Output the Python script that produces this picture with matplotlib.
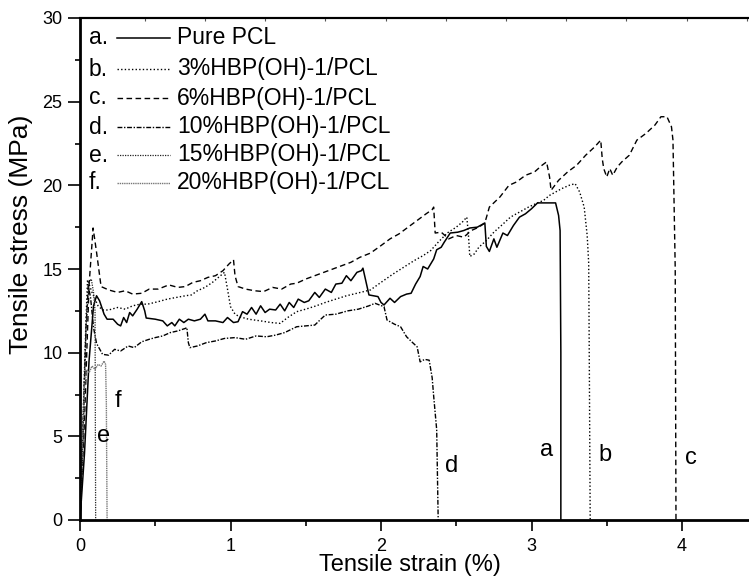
import matplotlib
matplotlib.use("Agg")
import matplotlib.pyplot as plt
from matplotlib.ticker import MultipleLocator, FixedLocator, NullFormatter

plt.rcParams['font.family'] = ['Liberation Sans', 'DejaVu Sans']

# ---- data ----
a_x = [0, 0.03, 0.06, 0.09, 0.11, 0.13, 0.16, 0.18, 0.22, 0.25, 0.27, 0.29, 0.31, 0.33, 0.35, 0.38, 0.41, 0.43,
       0.44, 0.5, 0.55, 0.58, 0.61, 0.63, 0.66, 0.69, 0.72, 0.76, 0.8, 0.83, 0.85, 0.9, 0.95, 0.98, 1.02, 1.05,
       1.08, 1.11, 1.14, 1.17, 1.2, 1.23, 1.26, 1.3, 1.33, 1.36, 1.39, 1.42, 1.45, 1.49, 1.52, 1.56, 1.59, 1.63,
       1.67, 1.7, 1.74, 1.77, 1.8, 1.84, 1.87, 1.88, 1.92, 1.98, 2.0, 2.02, 2.06, 2.09, 2.13, 2.17, 2.2, 2.23,
       2.26, 2.28, 2.31, 2.35, 2.37, 2.4, 2.42, 2.46, 2.51, 2.55, 2.59, 2.64, 2.69, 2.7, 2.72, 2.75, 2.77, 2.81,
       2.84, 2.88, 2.92, 2.96, 3.0, 3.04, 3.08, 3.16, 3.18, 3.19, 3.195, 3.195]
a_y = [0, 4, 9.5, 12.8, 13.4, 13.1, 12.3, 12.0, 12.0, 11.7, 11.6, 12.1, 11.8, 12.4, 12.2, 12.6, 13.05, 12.5,
       12.07, 12.0, 11.9, 11.6, 11.8, 11.6, 12.0, 11.8, 12.0, 11.9, 12.0, 12.3, 11.9, 11.9, 11.8, 12.1, 11.8, 11.85,
       12.45, 12.3, 12.7, 12.3, 12.8, 12.4, 12.6, 12.55, 12.9, 12.5, 13.0, 12.7, 13.2, 13.0, 13.1, 13.6, 13.3, 13.8,
       13.6, 14.1, 14.15, 14.6, 14.3, 14.8, 14.9, 15.05, 13.45, 13.35, 13.0, 12.85, 13.25, 13.0, 13.35, 13.5, 13.55, 14.1,
       14.55, 15.15, 15.0, 15.6, 16.15, 16.3, 16.6, 17.15, 17.2, 17.3, 17.45, 17.5, 17.75, 16.35, 16.05, 16.8, 16.3, 17.15,
       17.0, 17.6, 18.1, 18.3, 18.6, 18.95, 18.95, 18.95, 18.2, 17.3, 10, 0]

b_x = [0, 0.02, 0.04, 0.05, 0.08, 0.12, 0.15, 0.19, 0.25, 0.3, 0.35, 0.4, 0.45, 0.52, 0.58, 0.64, 0.7, 0.74,
       0.78, 0.83, 0.88, 0.92, 0.96, 0.98, 1.0, 1.03, 1.06, 1.12, 1.2, 1.27, 1.33, 1.38, 1.44, 1.5, 1.57, 1.63,
       1.7, 1.77, 1.84, 1.93, 2.0, 2.08, 2.15, 2.22, 2.28, 2.33, 2.38, 2.44, 2.5, 2.54, 2.57, 2.58, 2.59, 2.62,
       2.65, 2.7, 2.75, 2.8, 2.86, 2.92, 2.98, 3.04, 3.08, 3.12, 3.16, 3.2, 3.25, 3.29, 3.32, 3.35, 3.37, 3.38,
       3.385, 3.39]
b_y = [0, 6, 12, 14.35, 13.6, 12.8, 12.55, 12.55, 12.7, 12.6, 12.8, 12.9, 12.9, 13.05, 13.2, 13.3, 13.4, 13.45,
       13.7, 13.9, 14.2, 14.5, 14.8, 13.8, 12.75, 12.3, 12.15, 12.0, 11.9, 11.8, 11.75, 12.1, 12.45, 12.6, 12.8, 13.0,
       13.2, 13.4, 13.55, 13.75, 14.2, 14.7, 15.1, 15.5, 15.8, 16.1, 16.6, 17.15, 17.5, 17.8, 18.1, 17.15, 15.75, 15.9,
       16.3, 16.7, 17.2, 17.6, 18.1, 18.4, 18.7, 18.95, 19.1, 19.4, 19.6, 19.8, 20.0, 20.1, 19.6, 18.7, 17.0, 15.35,
       8, 0]

c_x = [0, 0.03, 0.06, 0.087, 0.11, 0.14, 0.19, 0.25, 0.3, 0.35, 0.41, 0.46, 0.52, 0.59, 0.65, 0.7, 0.75, 0.8,
       0.85, 0.9, 0.95, 0.99, 1.02, 1.03, 1.05, 1.1, 1.16, 1.22, 1.28, 1.34, 1.4, 1.44, 1.5, 1.56, 1.62, 1.68,
       1.74, 1.8, 1.86, 1.93, 2.0, 2.06, 2.12, 2.18, 2.24, 2.3, 2.34, 2.35, 2.36, 2.4, 2.45, 2.5, 2.55, 2.6,
       2.65, 2.69, 2.72, 2.79, 2.85, 2.9, 2.96, 3.02, 3.07, 3.1, 3.12, 3.13, 3.18, 3.24, 3.3, 3.36, 3.42, 3.46,
       3.47, 3.48, 3.5, 3.52, 3.54, 3.57, 3.6, 3.65, 3.7, 3.76, 3.82, 3.86, 3.9, 3.93, 3.94, 3.955, 3.96]
c_y = [0, 6, 14, 17.45, 16, 13.95, 13.75, 13.6, 13.7, 13.5, 13.55, 13.8, 13.8, 14.05, 13.9, 13.95, 14.2, 14.3,
       14.5, 14.6, 14.9, 15.3, 15.55, 14.6, 13.95, 13.8, 13.7, 13.65, 13.9, 13.8, 14.1, 14.15, 14.4, 14.6, 14.8, 15.0,
       15.2, 15.4, 15.7, 15.95, 16.4, 16.8, 17.1, 17.5, 17.9, 18.3, 18.55, 18.7, 17.15, 17.2, 16.8, 17.0, 16.9, 17.3,
       17.5, 17.75, 18.7, 19.3, 20.0, 20.2, 20.6, 20.8, 21.2, 21.4, 20.5, 19.7, 20.3, 20.8, 21.2, 21.8, 22.3, 22.7,
       21.6, 21.0, 20.5, 21.0, 20.6, 21.1, 21.4, 21.8, 22.7, 23.1, 23.6, 24.1, 24.1, 23.5, 22.7, 15, 0]

d_x = [0, 0.02, 0.04, 0.055, 0.07, 0.09, 0.11, 0.15, 0.19, 0.23, 0.27, 0.32, 0.36, 0.41, 0.46, 0.5, 0.55, 0.6,
       0.65, 0.7, 0.71, 0.72, 0.73, 0.78, 0.84, 0.9, 0.96, 1.03, 1.1, 1.17, 1.24, 1.3, 1.36, 1.44, 1.5, 1.56,
       1.6, 1.63, 1.7, 1.78, 1.85, 1.92, 1.96, 2.02, 2.04, 2.09, 2.13, 2.17, 2.21, 2.24, 2.26, 2.29, 2.32, 2.34,
       2.35, 2.37, 2.38]
d_y = [0, 5, 11.5, 14.0, 13.3, 11.5, 10.55, 9.9, 9.85, 10.2, 10.1, 10.4, 10.3, 10.65, 10.8, 10.9, 11.0, 11.2,
       11.3, 11.45, 11.5, 10.6, 10.3, 10.4, 10.6, 10.7, 10.85, 10.9, 10.8, 11.0, 10.95, 11.05, 11.2, 11.55, 11.6, 11.65,
       12.0, 12.25, 12.3, 12.5, 12.6, 12.8, 12.95, 12.75, 11.95, 11.7, 11.55, 10.95, 10.6, 10.35, 9.45, 9.6, 9.55, 8.5,
       7.4, 5.4, 0]

e_x = [0, 0.02, 0.04, 0.06, 0.075, 0.09, 0.1, 0.102, 0.104]
e_y = [0, 6, 11.5, 14.2, 14.4, 13.6, 12.5, 6, 0]

f_x = [0, 0.015, 0.03, 0.045, 0.06, 0.08, 0.1, 0.12, 0.14, 0.16, 0.17, 0.175, 0.18]
f_y = [0, 4, 8, 9.0, 8.8, 9.2, 9.0, 9.3, 9.2, 9.5, 9.3, 7, 0]

legend_letters = ["a.", "b.", "c.", "d.", "e.", "f."]
legend_labels = ["Pure PCL", "3%HBP(OH)-1/PCL", "6%HBP(OH)-1/PCL",
                 "10%HBP(OH)-1/PCL", "15%HBP(OH)-1/PCL", "20%HBP(OH)-1/PCL"]
curve_letters = ["a", "b", "c", "d", "e", "f"]
letter_x = [3.1, 3.49, 4.06, 2.47, 0.155, 0.255]
letter_y = [4.2, 3.9, 3.7, 3.2, 5.0, 7.1]
top_ticks = [0.43, 0.83, 1.23, 1.63, 2.03, 2.43, 2.83, 3.23, 3.63, 4.03, 4.43]

# ---- styles ----
styles = [
    dict(color="black", lw=1.1, ls="-"),
    dict(color="black", lw=1.0, ls=(0, (1, 1.6))),
    dict(color="black", lw=1.0, ls=(0, (4, 2.5))),
    dict(color="black", lw=1.0, ls=(0, (3.5, 1.2, 1, 1.2))),
    dict(color="#222222", lw=0.9, ls=(0, (1, 1))),
    dict(color="#777777", lw=1.0, ls=(0, (1, 0.6))),
]
series = [(a_x, a_y), (b_x, b_y), (c_x, c_y), (d_x, d_y), (e_x, e_y), (f_x, f_y)]

fig = plt.figure(figsize=(7.49, 5.86), dpi=100)
ax = fig.add_axes([80 / 749, 66 / 586, 669 / 749, 502 / 586])

for (xs, ys), st in zip(series, styles):
    ax.plot(xs, ys, **st)

for t, x, y in zip(curve_letters, letter_x, letter_y):
    ax.text(x, y, t, fontsize=17, ha="center", va="center")

# legend drawn manually (letter prefix + sample line + label)
row_y = [38, 69, 98, 127, 155, 183]
for i, (lt, lb, st) in enumerate(zip(legend_letters, legend_labels, styles)):
    yy = 1 - (row_y[i] - 18) / 502
    ax.text((89 - 80) / 669, yy, lt, transform=ax.transAxes, fontsize=16.5, va="center", ha="left")
    ax.plot([(117 - 80) / 669, (170 - 80) / 669], [yy, yy], transform=ax.transAxes, **st)
    ax.text((177 - 80) / 669, yy, lb, transform=ax.transAxes, fontsize=16.5, va="center", ha="left")

ax.set_xlim(0, 669 / 150.5)
ax.set_ylim(0, 30)
ax.xaxis.set_major_locator(MultipleLocator(1))
ax.xaxis.set_minor_locator(MultipleLocator(0.5))
ax.yaxis.set_major_locator(MultipleLocator(5))
ax.yaxis.set_minor_locator(MultipleLocator(2.5))
ax.tick_params(which="major", direction="out", width=1.2, labelsize=13)
ax.tick_params(axis="y", which="major", length=8.6, pad=4)
ax.tick_params(axis="y", which="minor", direction="out", length=3.8, width=1.2)
ax.tick_params(axis="x", which="major", length=8, pad=5)
ax.tick_params(axis="x", which="minor", direction="out", length=4.3, width=1.2)

ax.spines["right"].set_visible(False)
ax.spines["left"].set_linewidth(2.0)
ax.spines["bottom"].set_linewidth(2.0)
ax.spines["top"].set_linewidth(1.5)

# faint inward ticks along the top frame
axt = ax.twiny()
axt.set_xlim(ax.get_xlim())
axt.xaxis.set_major_locator(FixedLocator(top_ticks))
axt.xaxis.set_major_formatter(NullFormatter())
axt.tick_params(axis="x", direction="in", length=2.5, width=0.8, color="#555555")
for s in ["right", "left", "bottom"]:
    axt.spines[s].set_visible(False)
axt.spines["top"].set_linewidth(1.5)

ax.set_xlabel("Tensile strain (%)", fontsize=17)
ax.xaxis.set_label_coords(0.4925, -0.068)
ax.set_ylabel("Tensile stress (MPa)", fontsize=19)
ax.yaxis.set_label_coords(-0.071, 0.57)

fig.savefig("out.png", dpi=100)
